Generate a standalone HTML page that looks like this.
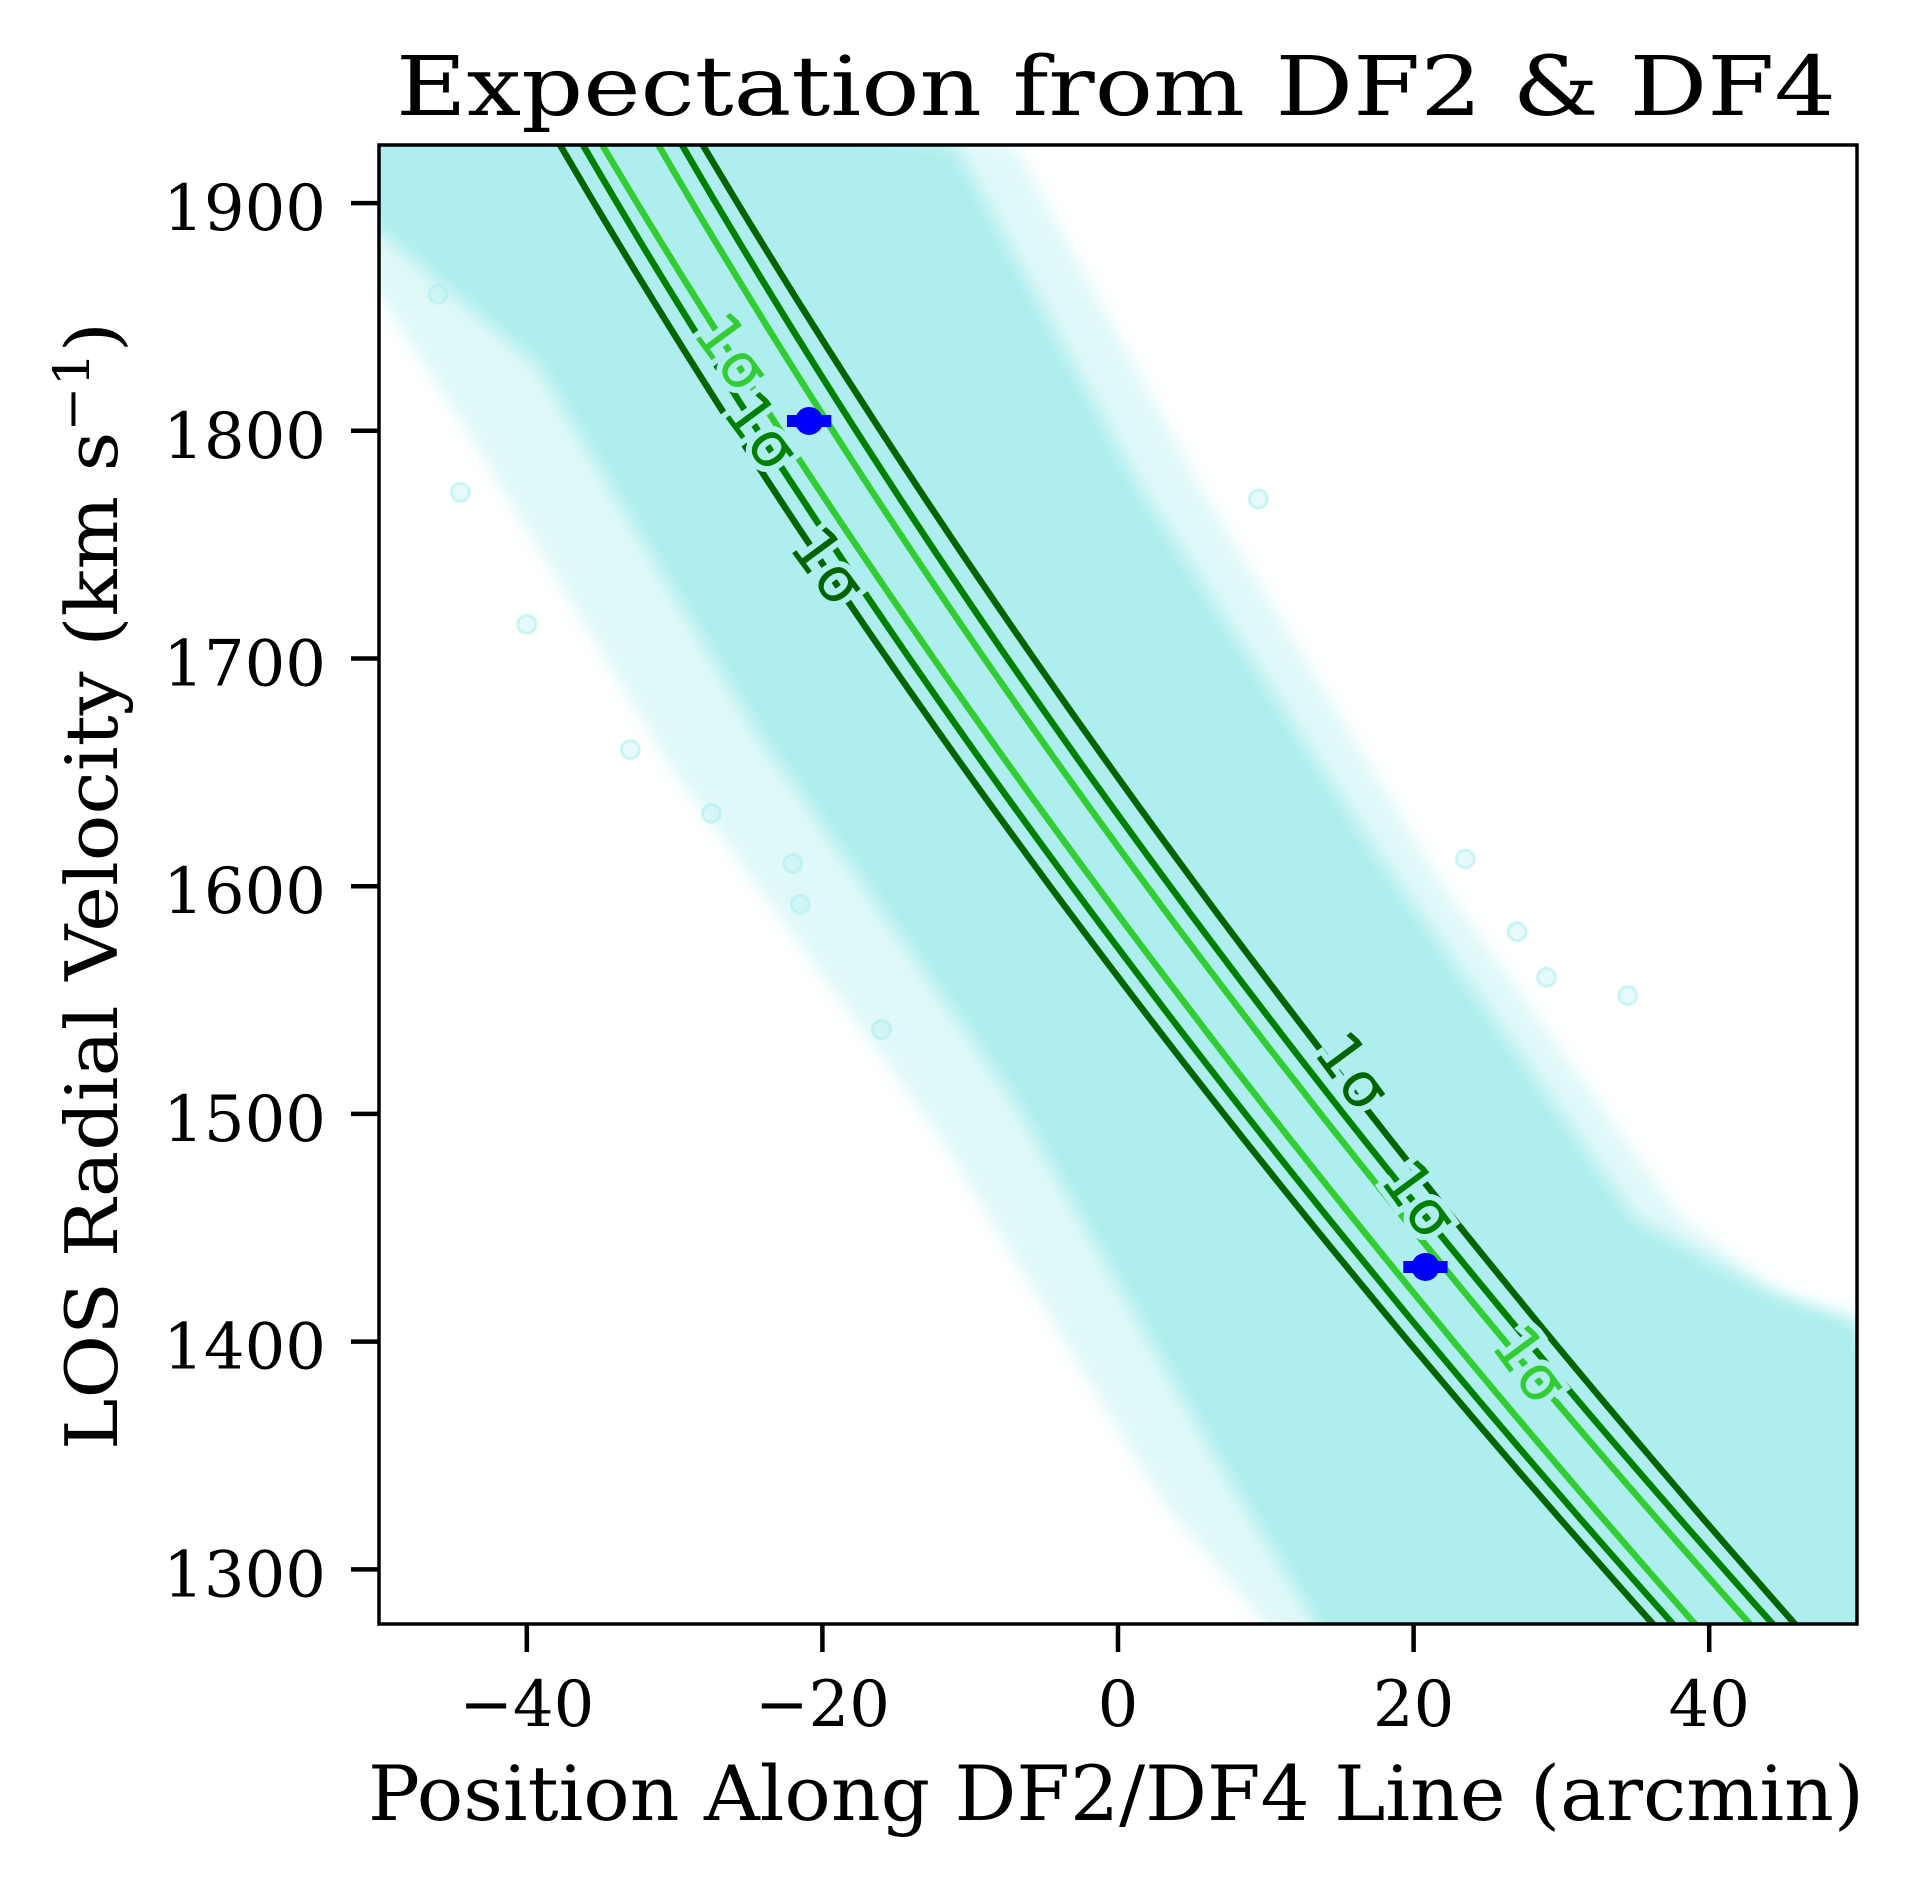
<!DOCTYPE html>
<html><head><meta charset="utf-8"><style>
html,body{margin:0;padding:0;background:#fff;}
svg{display:block;}
</style></head><body>
<svg id="chart" width="1910" height="1878" viewBox="0 0 1910 1878" xmlns="http://www.w3.org/2000/svg">
<defs><clipPath id="clip"><rect x="379" y="145" width="1478" height="1479"/></clipPath>
<filter id="blur"><feGaussianBlur stdDeviation="8"/></filter></defs>
<rect width="1910" height="1878" fill="#fff"/>
<g id="plot" clip-path="url(#clip)"></g>
<rect x="379" y="145" width="1478" height="1479" fill="none" stroke="#000" stroke-width="3.5"/>
<g id="axes"></g>
<text x="1116" y="115" font-family="DejaVu Serif, serif" font-size="82" text-anchor="middle" textLength="1440" lengthAdjust="spacingAndGlyphs">Expectation from DF2 &amp; DF4</text>
<text x="1116" y="1820" font-family="DejaVu Serif, serif" font-size="76" text-anchor="middle" textLength="1496" lengthAdjust="spacingAndGlyphs">Position Along DF2/DF4 Line (arcmin)</text>
<text transform="translate(117,886) rotate(-90)" font-family="DejaVu Serif, serif" font-size="72" text-anchor="middle" textLength="1128" lengthAdjust="spacingAndGlyphs">LOS Radial Velocity (km s<tspan dy="-28" font-size="50">−1</tspan><tspan dy="28">)</tspan></text>
</svg>
<script>
const xTicks=[-40,-20,0,20,40];
const xTickLabels=["−40","−20","0","20","40"];
const yTicks=[1300,1400,1500,1600,1700,1800,1900];
const yTickLabels=["1300","1400","1500","1600","1700","1800","1900"];
const contourY=[1925.5,1600,1276];
const darkLeft=[-37.75,-4.6,36.2];
const greenLeft=[-36.2,-3.11,37.55];
const limeLeft=[-34.9,-1.42,39.04];
const limeRight=[-31.1,1.96,42.76];
const greenRight=[-29.5,3.52,44.3];
const darkRight=[-28.1,5.35,45.8];
const bandInnerLeftX=[-50,-39.3,-24.5,-7.2,6.8,13.4];
const bandInnerLeftY=[1887.5,1828.6,1668,1507.5,1347,1276];
const bandInnerRightX=[-11,1.5,17.5,35,43.9,50];
const bandInnerRightY=[1925,1775,1614.5,1454,1422,1410];
const bandOuterLeftX=[-50,-44,-30,-12,3,10];
const bandOuterLeftY=[1860,1800,1650,1490,1330,1276];
const bandOuterRightX=[-7,6,22,38,50];
const bandOuterRightY=[1925,1770,1600,1455,1395];
const outlierX=[-44.5,-40,-33,-27.5,-22,-16,-21.5,9.5,23.5,29,34.5,-46,-48,13,27];
const outlierY=[1773,1715,1660,1632,1610,1537,1592,1770,1612,1560,1552,1860,1905,1295,1580];
const pointX=[-20.9,20.8];
const pointY=[1804.3,1432.8];
const pointErr=[1.5,1.5];
const labelX=[-26.1,-24.1,-19.6,15.9,20.4,27.9];
const labelY=[1834.6,1799.9,1740.6,1518.8,1462.6,1390];
const labelColor=["#32cd32","#008000","#006400","#006400","#008000","#32cd32"];

const X0=379,X1=1857,Y0=145,Y1=1624,XMIN=-50,XMAX=50,YMIN=1276,YMAX=1925.5;
const sx=v=>X0+(v-XMIN)/(XMAX-XMIN)*(X1-X0);
const sy=v=>Y1-(v-YMIN)/(YMAX-YMIN)*(Y1-Y0);
const NS="http://www.w3.org/2000/svg";
const plot=document.getElementById('plot'),axes=document.getElementById('axes');
function mk(tag,attrs,parent){const e=document.createElementNS(NS,tag);for(const k in attrs)e.setAttribute(k,attrs[k]);parent.appendChild(e);return e;}

function bandPath(lx,ly,rx,ry){
  let d='M'+sx(-60)+','+sy(1960);
  for(let i=0;i<rx.length;i++)d+=' L'+sx(rx[i])+','+sy(ry[i]);
  d+=' L'+sx(60)+','+sy(1200)+' L'+sx(lx[lx.length-1])+','+sy(1200);
  for(let i=lx.length-1;i>=0;i--)d+=' L'+sx(lx[i])+','+sy(ly[i]);
  d+=' L'+sx(-60)+','+sy(ly[0])+' Z';return d;}
const outer=mk('path',{d:bandPath(bandOuterLeftX,bandOuterLeftY,bandOuterRightX,bandOuterRightY),fill:'#afeeee','fill-opacity':'0.4',filter:'url(#blur)'},plot);


const inner=mk('path',{d:bandPath(bandInnerLeftX,bandInnerLeftY,bandInnerRightX,bandInnerRightY),fill:'#afeeee',filter:'url(#blur)'},plot);


for(let i=0;i<outlierX.length;i++){
  const c=mk('circle',{cx:sx(outlierX[i]),cy:sy(outlierY[i]),r:9,fill:'#afeeee','fill-opacity':'0.3',stroke:'#afeeee','stroke-opacity':'0.6','stroke-width':3},plot);
  
  
}
function quadX(xs,y){const [y0,y1,y2]=contourY;
  return xs[0]*(y-y1)*(y-y2)/((y0-y1)*(y0-y2))+xs[1]*(y-y0)*(y-y2)/((y1-y0)*(y1-y2))+xs[2]*(y-y0)*(y-y1)/((y2-y0)*(y2-y1));}
const lines=[[darkLeft,'#006400','contour-dark-left'],[greenLeft,'#008000','contour-green-left'],[limeLeft,'#32cd32','contour-lime-left'],[limeRight,'#32cd32','contour-lime-right'],[greenRight,'#008000','contour-green-right'],[darkRight,'#006400','contour-dark-right']];
lines.forEach(([xs,col,name])=>{let d='';
  for(let k=0;k<=60;k++){const y=YMAX+10-(YMAX-YMIN+20)*k/60;d+=(k?' L':'M')+sx(quadX(xs,y)).toFixed(1)+','+sy(y).toFixed(1);}
  const p=mk('path',{d:d,fill:'none',stroke:col,'stroke-width':6.5},plot);
  
  
});
for(let i=0;i<labelX.length;i++){
  const t=mk('text',{transform:'translate('+sx(labelX[i])+','+sy(labelY[i])+') rotate(53.5)','font-family':'DejaVu Sans, sans-serif','font-size':62,fill:labelColor[i],'text-anchor':'middle','dominant-baseline':'central',stroke:'#afeeee','stroke-width':12,'paint-order':'stroke'},plot);
  t.textContent='1σ';
  
  
}
for(let i=0;i<pointX.length;i++){
  const e=mk('line',{x1:sx(pointX[i]-pointErr[i]),x2:sx(pointX[i]+pointErr[i]),y1:sy(pointY[i]),y2:sy(pointY[i]),stroke:'#0000ff','stroke-width':12},plot);
  
  
  const c=mk('circle',{cx:sx(pointX[i]),cy:sy(pointY[i]),r:14,fill:'#0000ff'},plot);
  
  
}
xTicks.forEach((v,i)=>{
  const l=mk('line',{x1:sx(v),x2:sx(v),y1:Y1,y2:Y1+28,stroke:'#000','stroke-width':4.5},axes);
  
  
  const t=mk('text',{x:sx(v),y:1726,'font-family':'DejaVu Serif, serif','font-size':64,'text-anchor':'middle'},axes);
  t.textContent=xTickLabels[i];
  
  
});
yTicks.forEach((v,i)=>{
  const l=mk('line',{x1:X0-28,x2:X0,y1:sy(v),y2:sy(v),stroke:'#000','stroke-width':4.5},axes);
  
  
  const t=mk('text',{x:326,y:sy(v)+27,'font-family':'DejaVu Serif, serif','font-size':64,'text-anchor':'end'},axes);
  t.textContent=yTickLabels[i];
  
  
});
</script>
</body></html>
